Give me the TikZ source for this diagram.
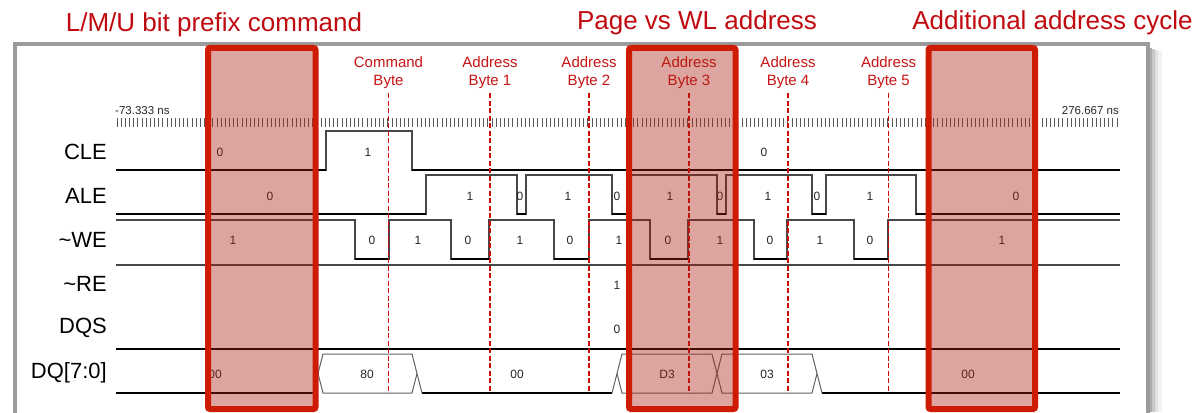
\documentclass[tikz,border=0pt]{standalone}
\usepackage{fontspec}
\setmainfont{Liberation Sans}
\definecolor{titlered}{RGB}{192,10,16}
\definecolor{boxred}{RGB}{206,28,4}
\definecolor{boxfill}{RGB}{168,32,15}
\definecolor{dashred}{RGB}{208,8,8}
\definecolor{labred}{RGB}{200,20,20}
\definecolor{framegray}{RGB}{155,155,155}
\begin{document}
\begin{tikzpicture}[x=1pt,y=-1pt,
  hi/.style={draw=black!72, line width=1.1pt},
  lo/.style={draw=black, line width=1.7pt},
  val/.style={font=\fontsize{12}{12}\selectfont, text=black!85, inner sep=0pt},
  sig/.style={font=\fontsize{22}{22}\selectfont, anchor=east, inner sep=0pt},
  blab/.style={font=\fontsize{15}{18}\selectfont, text=labred, align=center, inner sep=0pt},
  ttl/.style={font=\fontsize{26}{26}\selectfont, text=titlered, anchor=base, inner sep=0pt},
  vline/.style={draw=dashred, line width=1.8pt, dash pattern=on 5pt off 2.5pt},
  hbox/.style={draw=boxred, line width=6pt, fill=boxfill, fill opacity=0.4, rounded corners=2pt},
  tick/.style={draw=black!65, line width=0.9pt},
  busl/.style={draw=black!62, line width=1pt},
  nslab/.style={font=\fontsize{11.5}{11.5}\selectfont, text=black!85, inner sep=0pt}
]
\useasboundingbox (0,0) rectangle (1198,412);
\clip (0,0) rectangle (1198,412);
\fill[white] (0,0) rectangle (1198,412);

% frame with shadow
\fill[black!32] (1149,48) rectangle (1152,412);
\fill[black!22] (1152,49) rectangle (1155,412);
\fill[black!12] (1155,50) rectangle (1158,412);
\fill[black!5] (1158,51) rectangle (1162,412);
\draw[line width=4pt, draw=framegray] (15,44) rectangle (1148,470);

% ruler
\foreach \i in {0,...,240} \draw[tick] ({117+\i*4.1667},118) -- ++(0,9);
\node[nslab, anchor=base west] (tstart) at (115,114) {-73.333 ns};
\node[nslab, anchor=base east] (tend) at (1119,114) {276.667 ns};

% signal names
\node[sig] (nCLE) at (107,152) {CLE};
\node[sig] (nALE) at (107,196) {ALE};
\node[sig] (nWE) at (107,240) {\textasciitilde WE};
\node[sig] (nRE) at (107,284) {\textasciitilde RE};
\node[sig] (nDQS) at (107,328) {DQS};
\node[sig] (nDQ) at (107,373) {DQ[7:0]};

% CLE
\draw[hi] (116,170) -- (326,170) -- (326,131) -- (412,131) -- (412,170) -- (1120,170);
\draw[lo] (116,170) -- (326,170) (412,170) -- (1120,170);
% ALE
\draw[hi] (116,214) -- (426,214) |- (517,175) |- (526,214) |- (612,175) |- (627,214) |- (717,175) |- (726,214) |- (812,175) |- (826,214) |- (916,175) |- (1120,214);
\draw[lo] (116,214) -- (426,214) (517,214) -- (526,214) (612,214) -- (627,214) (717,214) -- (726,214) (812,214) -- (826,214) (916,214) -- (1120,214);
% WE
\draw[hi] (116,220) -- (355,220) |- (389,259) |- (451,220) |- (489,259) |- (554,220) |- (589,259) |- (650,220) |- (688,259) |- (754,220) |- (787,259) |- (854,220) |- (888,259) |- (1120,220);
\draw[lo] (355,259) -- (389,259) (451,259) -- (489,259) (554,259) -- (589,259) (650,259) -- (688,259) (754,259) -- (787,259) (854,259) -- (888,259);
% RE, DQS
\draw[hi] (116,265) -- (1120,265);
\draw[lo] (116,349) -- (1120,349);
% DQ bus
\draw[lo] (116,393) -- (313,393) (422,393) -- (612,393) (822,393) -- (1120,393);
\draw[busl] (313,393) -- (323,354) -- (412,354) -- (422,393)
            (318,373.5) -- (323,393) -- (412,393) -- (417,373.5);
\draw[busl] (612,393) -- (622,354) -- (712,354) -- (722,393) -- (812,393) -- (817,373.5)
            (617,373.5) -- (622,393) -- (712,393) -- (722,354) -- (812,354) -- (822,393);

% values
\node[val] (c0) at (220,152) {0};
\node[val] (c1) at (368,152) {1};
\node[val] (c2) at (764,152) {0};
\node[val] (a0) at (270,196) {0};
\node[val] (a1) at (470,196) {1};
\node[val] (a2) at (520,196) {0};
\node[val] (a3) at (568,196) {1};
\node[val] (a4) at (617,196) {0};
\node[val] (a5) at (670,196) {1};
\node[val] (a6) at (720,196) {0};
\node[val] (a7) at (768,196) {1};
\node[val] (a8) at (817,196) {0};
\node[val] (a9) at (870,196) {1};
\node[val] (a10) at (1016,196) {0};
\node[val] (w0) at (233,240) {1};
\node[val] (w1) at (372,240) {0};
\node[val] (w2) at (418,240) {1};
\node[val] (w3) at (468,240) {0};
\node[val] (w4) at (520,240) {1};
\node[val] (w5) at (570,240) {0};
\node[val] (w6) at (619,240) {1};
\node[val] (w7) at (668,240) {0};
\node[val] (w8) at (720,240) {1};
\node[val] (w9) at (770,240) {0};
\node[val] (w10) at (820,240) {1};
\node[val] (w11) at (870,240) {0};
\node[val] (w12) at (1002,240) {1};
\node[val] (r0) at (617,285) {1};
\node[val] (q0) at (617,329) {0};
\node[val] (d0) at (215,374) {00};
\node[val] (d1) at (367,374) {80};
\node[val] (d2) at (517,374) {00};
\node[val] (d3) at (667,374) {D3};
\node[val] (d4) at (767,374) {03};
\node[val] (d5) at (968,374) {00};

% byte markers
\node[blab] (cb) at (388.5,73) {Command\\Byte};
\node[blab] (ab1) at (490,73) {Address\\Byte 1};
\node[blab] (ab2) at (589,73) {Address\\Byte 2};
\node[blab] (ab3) at (689,73) {Address\\Byte 3};
\node[blab] (ab4) at (788,73) {Address\\Byte 4};
\node[blab] (ab5) at (888.5,73) {Address\\Byte 5};
\foreach \x in {388.5,490,589,689,788,888.5} \draw[vline] (\x,93) -- (\x,393);

% highlight boxes
\draw[hbox] (208,48) rectangle (315.5,409);
\draw[hbox] (629,48) rectangle (735.5,409);
\draw[hbox] (928.5,48) rectangle (1035,409);

% titles
\node[ttl] (t1) at (214,32) {L/M/U bit prefix command};
\node[ttl] (t2) at (697,29.5) {Page vs WL address};
\node[ttl] (t3) at (1052.5,29.5) {Additional address cycle};
\end{tikzpicture}
\end{document}
